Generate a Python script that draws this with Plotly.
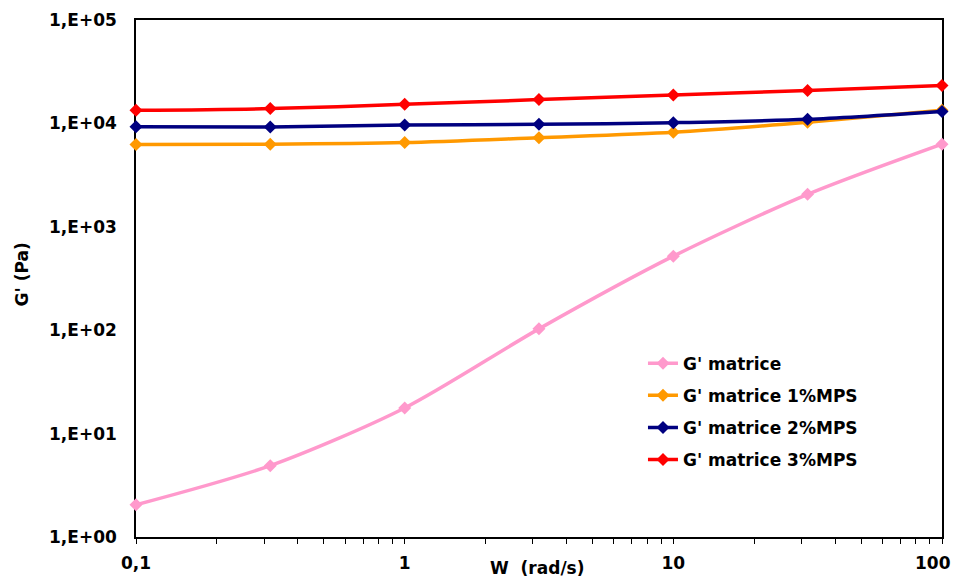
import plotly.graph_objects as go

# Data
w = [0.1, 0.316, 1, 3.16, 10, 31.6, 100]
g_matrice = [2.05, 4.9, 17.7, 103, 520, 2060, 6300]
g_1mps = [6240, 6280, 6520, 7280, 8200, 10240, 13370]
g_2mps = [9270, 9220, 9640, 9790, 10170, 10950, 13060]
g_3mps = [13370, 13900, 15280, 16980, 18840, 20850, 23300]

series_names = ["G' matrice", "G' matrice 1%MPS", "G' matrice 2%MPS", "G' matrice 3%MPS"]
series_values = [g_matrice, g_1mps, g_2mps, g_3mps]
series_colors = ["#FF99CC", "#FF9900", "#000080", "#FF0000"]

x_tick_vals = [0.1, 0.2, 0.3, 0.4, 0.5, 0.6, 0.7, 0.8, 0.9,
               1, 2, 3, 4, 5, 6, 7, 8, 9,
               10, 20, 30, 40, 50, 60, 70, 80, 90, 100]
# the last label ("100") is drawn as an annotation so that it stays inside the page
x_tick_text = ["0,1"] + [""] * 8 + ["1"] + [""] * 8 + ["10"] + [""] * 8 + [""]
x_last_label = "100"
y_tick_vals = [1, 10, 100, 1000, 10000, 100000]
y_tick_text = ["1,E+00", "1,E+01", "1,E+02", "1,E+03", "1,E+04", "1,E+05"]
x_title = "W  (rad/s)"
y_title = "G' (Pa)"

FONT = "DejaVu Sans"

fig = go.Figure()
for i, (name, vals, col) in enumerate(zip(series_names, series_values, series_colors)):
    fig.add_trace(go.Scatter(
        x=w, y=vals, name=name, mode="lines+markers",
        line=dict(color=col, width=3.5, shape="spline", smoothing=0.8),
        marker=dict(symbol="diamond", size=10, color=col),
        cliponaxis=False, legendgroup=f"g{i}",
    ))

# page body has an 8px margin: figure origin sits at (8, 8) in the window
fig.update_layout(
    width=946, height=570,
    margin=dict(l=128, r=12, t=12, b=41),
    paper_bgcolor="white", plot_bgcolor="white",
    font=dict(family=FONT, size=17, color="black", weight="bold"),
    showlegend=True,
    legend=dict(x=0.629, y=0.370, xanchor="left", yanchor="top",
                bgcolor="rgba(0,0,0,0)", tracegroupgap=7,
                font=dict(family=FONT, size=17, weight="bold")),
    xaxis=dict(type="log", range=[-1, 2], tickvals=x_tick_vals, ticktext=x_tick_text,
               ticks="outside", ticklen=5, tickwidth=1.3, tickcolor="black",
               showline=True, linecolor="black", linewidth=1.5, mirror=True,
               showgrid=False, zeroline=False, layer="below traces",
               automargin=False, ticklabelstandoff=5, ticklabeloverflow="allow",
               tickfont=dict(family=FONT, size=17, weight="bold")),
    yaxis=dict(type="log", range=[0, 5], tickvals=y_tick_vals, ticktext=y_tick_text,
               ticks="", showline=True, linecolor="black", linewidth=1.5, mirror=True,
               showgrid=False, zeroline=False, layer="below traces",
               automargin=False, ticklabelstandoff=14,
               tickfont=dict(family=FONT, size=17, weight="bold")),
    annotations=[
        dict(text=x_title, xref="paper", yref="paper", x=0.4975, y=-0.060,
             xanchor="center", yanchor="middle", showarrow=False,
             font=dict(family=FONT, size=17, weight="bold")),
        dict(text=y_title, xref="paper", yref="paper", x=-0.1414, y=0.508,
             xanchor="center", yanchor="middle", showarrow=False, textangle=-90,
             font=dict(family=FONT, size=17, weight="bold")),
        dict(text=x_last_label, xref="paper", yref="paper", x=1.0136, y=-0.0502,
             xanchor="right", yanchor="middle", showarrow=False,
             font=dict(family=FONT, size=17, weight="bold")),
    ],
)

fig.write_html("out.html")
